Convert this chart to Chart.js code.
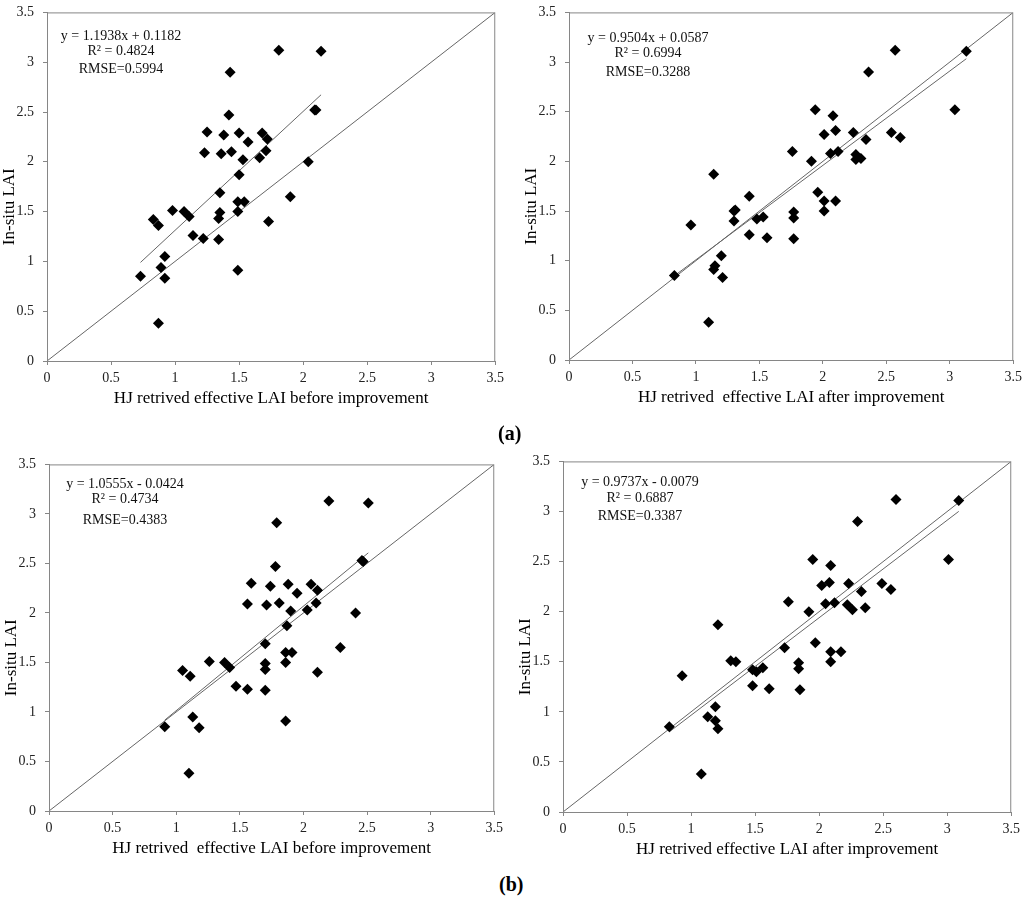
<!DOCTYPE html>
<html>
<head>
<meta charset="utf-8">
<title>In-situ LAI vs HJ retrieved effective LAI</title>
<script src="https://cdn.jsdelivr.net/npm/chart.js@4.4.1/dist/chart.umd.min.js"></script>
<style>
  html, body { margin: 0; padding: 0; background: #fff; overflow: hidden; }
  body { width: 1024px; height: 897px; position: relative; }
  .panel { position: absolute; }
  .tag { position: absolute; font: bold 20px "Liberation Serif", serif; color: #000; }
</style>
</head>
<body>
<div class="panel" id="p1" style="left:0px;top:-5px;width:509px;height:415px"><canvas id="c1"></canvas></div>
<div class="panel" id="p2" style="left:522px;top:-5px;width:505px;height:414px"><canvas id="c2"></canvas></div>
<div class="panel" id="p3" style="left:2px;top:447px;width:506px;height:413px"><canvas id="c3"></canvas></div>
<div class="panel" id="p4" style="left:516px;top:444px;width:509px;height:417px"><canvas id="c4"></canvas></div>
<div class="tag" style="left:498px;top:422px">(a)</div>
<div class="tag" style="left:499px;top:873px">(b)</div>
<script>
// Axis ticks shared by all four panels
const tickValues = [0, 0.5, 1, 1.5, 2, 2.5, 3, 3.5];
const yTitle = "In-situ LAI";

// (a) left: HJ retrieved effective LAI before improvement
const xA1 = [1.81, 2.14, 1.43, 1.42, 2.09, 2.10, 1.25, 1.38, 1.50, 1.68, 1.72, 1.57,
  1.23, 1.36, 1.44, 1.71, 1.66, 1.53, 2.04, 1.50, 1.35, 1.90, 1.49, 1.54,
  0.98, 1.07, 1.11, 1.35, 1.34, 1.49, 1.73, 0.83, 0.87, 1.14, 1.22, 1.34,
  0.92, 0.89, 0.73, 0.92, 1.49, 0.87];
const yA1 = [3.12, 3.11, 2.90, 2.47, 2.52, 2.52, 2.30, 2.27, 2.29, 2.29, 2.23, 2.20,
  2.09, 2.08, 2.10, 2.11, 2.04, 2.02, 2.00, 1.87, 1.69, 1.65, 1.60, 1.60,
  1.51, 1.50, 1.45, 1.49, 1.43, 1.50, 1.40, 1.42, 1.36, 1.26, 1.23, 1.22,
  1.05, 0.94, 0.85, 0.83, 0.91, 0.38];

// (a) right: after improvement
const xA2 = [2.57, 3.13, 2.36, 1.94, 3.04, 2.08, 2.01, 2.10, 2.24, 2.54, 2.61, 2.34,
  1.76, 2.06, 2.12, 2.26, 2.26, 2.30, 1.91, 1.14, 1.96, 2.01, 2.10, 2.01,
  1.42, 1.30, 1.31, 1.30, 1.53, 1.48, 1.77, 1.77, 1.77, 1.56, 1.42, 0.96,
  1.20, 1.15, 1.14, 1.21, 0.83, 1.10];
const yA2 = [3.12, 3.11, 2.90, 2.52, 2.52, 2.46, 2.27, 2.31, 2.29, 2.29, 2.24, 2.22,
  2.10, 2.08, 2.10, 2.07, 2.02, 2.03, 2.00, 1.87, 1.69, 1.60, 1.60, 1.50,
  1.65, 1.50, 1.51, 1.40, 1.44, 1.42, 1.49, 1.43, 1.22, 1.23, 1.26, 1.36,
  1.05, 0.95, 0.91, 0.83, 0.85, 0.38];

// (b) left: before improvement
const xB1 = [2.20, 2.51, 1.79, 1.78, 2.46, 2.47, 1.59, 1.74, 1.88, 2.06, 2.11, 1.95,
  1.56, 1.71, 1.81, 2.10, 2.03, 1.90, 2.41, 1.87, 1.70, 2.29, 1.86, 1.91,
  1.26, 1.38, 1.42, 1.70, 1.70, 1.86, 2.11, 1.05, 1.11, 1.47, 1.56, 1.70,
  1.13, 1.18, 0.91, 1.86, 1.10];
const yB1 = [3.13, 3.11, 2.91, 2.47, 2.53, 2.52, 2.30, 2.27, 2.29, 2.29, 2.23, 2.20,
  2.09, 2.08, 2.10, 2.10, 2.03, 2.02, 2.00, 1.87, 1.69, 1.65, 1.60, 1.60,
  1.51, 1.50, 1.45, 1.49, 1.43, 1.50, 1.40, 1.42, 1.36, 1.26, 1.23, 1.22,
  0.95, 0.84, 0.85, 0.91, 0.38];

// (b) right: after improvement
const xB2 = [2.60, 3.09, 2.30, 1.95, 3.01, 2.09, 2.02, 2.08, 2.23, 2.49, 2.56, 2.33,
  1.76, 2.05, 2.12, 2.22, 2.26, 2.36, 1.92, 1.21, 1.97, 2.09, 2.17, 2.09,
  1.73, 1.31, 1.35, 1.56, 1.48, 1.51, 1.84, 1.84, 1.85, 1.61, 1.48, 0.93,
  1.19, 1.13, 1.19, 1.21, 0.83, 1.08];
const yB2 = [3.12, 3.11, 2.90, 2.52, 2.52, 2.46, 2.26, 2.29, 2.28, 2.28, 2.22, 2.20,
  2.10, 2.08, 2.09, 2.07, 2.02, 2.04, 2.00, 1.87, 1.69, 1.60, 1.60, 1.50,
  1.64, 1.51, 1.50, 1.44, 1.42, 1.40, 1.49, 1.43, 1.22, 1.23, 1.26, 1.36,
  1.05, 0.95, 0.91, 0.83, 0.85, 0.38];

// Regression coefficients and statistics for each panel
const slopes = [1.1938, 0.9504, 1.0555, 0.9737];
const intercepts = [0.1182, 0.0587, -0.0424, -0.0079];
const r2Values = ["0.4824", "0.6994", "0.4734", "0.6887"];
const rmseValues = ["0.5994", "0.3288", "0.4383", "0.3387"];
const xTitles = [
  "HJ retrived effective LAI before improvement",
  "HJ retrived  effective LAI after improvement",
  "HJ retrived  effective LAI before improvement",
  "HJ retrived effective LAI after improvement"
];

const serif = '"Liberation Serif", "Times New Roman", serif';
const boxColor = "#868686";

// Frame around the plot area, the equation / R² / RMSE block and the y title
// (the y title sits a bit below the middle of the axis, as in the original figure)
const statsPlugin = {
  id: "stats",
  afterDraw(chart, args, opts) {
    const ctx = chart.ctx, a = chart.chartArea;
    ctx.save();
    ctx.strokeStyle = boxColor;
    ctx.lineWidth = 1;
    ctx.strokeRect(a.left + 0.5, a.top + 0.5, a.right - a.left - 1, a.bottom - a.top);
    ctx.fillStyle = "#111";
    ctx.font = "14px " + serif;
    ctx.textAlign = "center";
    ctx.textBaseline = "middle";
    opts.lines.forEach((t, i) => ctx.fillText(t, a.left + opts.dx, a.top + opts.dy[i]));

    ctx.fillStyle = "#000";
    ctx.font = "17px " + serif;
    ctx.translate(chart.scales.y.left + 10, (a.top + a.bottom) / 2 + 20);
    ctx.rotate(-Math.PI / 2);
    ctx.fillText(opts.yTitle, 0, 0);
    ctx.restore();
  }
};

function fmtEq(k, b) {
  const sign = b < 0 ? " - " : " + ";
  return "y = " + k.toFixed(4) + "x" + sign + Math.abs(b).toFixed(4);
}

function makeChart(id, xs, ys, n, dx, dy) {
  const pts = xs.map((x, i) => ({ x: x, y: ys[i] }));
  const xmin = Math.min(...xs), xmax = Math.max(...xs);
  const fit = [xmin, xmax].map(x => ({ x: x, y: slopes[n] * x + intercepts[n] }));
  const diag = [{ x: tickValues[0], y: tickValues[0] },
                { x: tickValues[tickValues.length - 1], y: tickValues[tickValues.length - 1] }];
  const axisCommon = {
    type: "linear",
    min: 0,
    max: 3.5,
    afterBuildTicks: s => { s.ticks = tickValues.map(v => ({ value: v })); },
    grid: { display: true, drawOnChartArea: false, drawTicks: true, tickLength: 4, color: boxColor },
    border: { display: true, color: boxColor }
  };
  const tickFont = { family: serif, size: 14 };
  return new Chart(id, {
    type: "scatter",
    data: {
      datasets: [
        { data: pts, pointStyle: "rectRot", pointRadius: 5.5, backgroundColor: "#000",
          borderColor: "#000", borderWidth: 0 },
        { data: diag, showLine: true, pointRadius: 0, borderColor: "#666", borderWidth: 1 },
        { data: fit, showLine: true, pointRadius: 0, borderColor: "#666", borderWidth: 1 }
      ]
    },
    options: {
      responsive: true,
      maintainAspectRatio: false,
      animation: false,
      events: [],
      layout: { padding: { left: 0, right: 12, top: 10, bottom: 0 } },
      plugins: {
        legend: { display: false },
        tooltip: { enabled: false },
        stats: {
          lines: [fmtEq(slopes[n], intercepts[n]), "R\u00b2 = " + r2Values[n], "RMSE=" + rmseValues[n]],
          dx: dx, dy: dy, yTitle: yTitle
        }
      },
      scales: {
        x: Object.assign({}, axisCommon, {
          afterFit: s => { s.height = 49; },
          ticks: { color: "#222", padding: 5, maxRotation: 0, font: tickFont, callback: v => String(v) },
          title: { display: true, text: xTitles[n], color: "#000", padding: { top: 0, bottom: 1 },
                   font: { family: serif, size: 17 } }
        }),
        y: Object.assign({}, axisCommon, {
          afterFit: s => { s.width = 47; },
          ticks: { color: "#222", padding: 9, font: tickFont, callback: v => String(v) },
          title: { display: false }
        })
      }
    },
    plugins: [statsPlugin]
  });
}

makeChart("c1", xA1, yA1, 0, 74, [24, 39, 57]);
makeChart("c2", xA2, yA2, 1, 79, [26, 41, 60]);
makeChart("c3", xB1, yB1, 2, 76, [20, 35, 56]);
makeChart("c4", xB2, yB2, 3, 77, [21, 37, 55]);
</script>
</body>
</html>
